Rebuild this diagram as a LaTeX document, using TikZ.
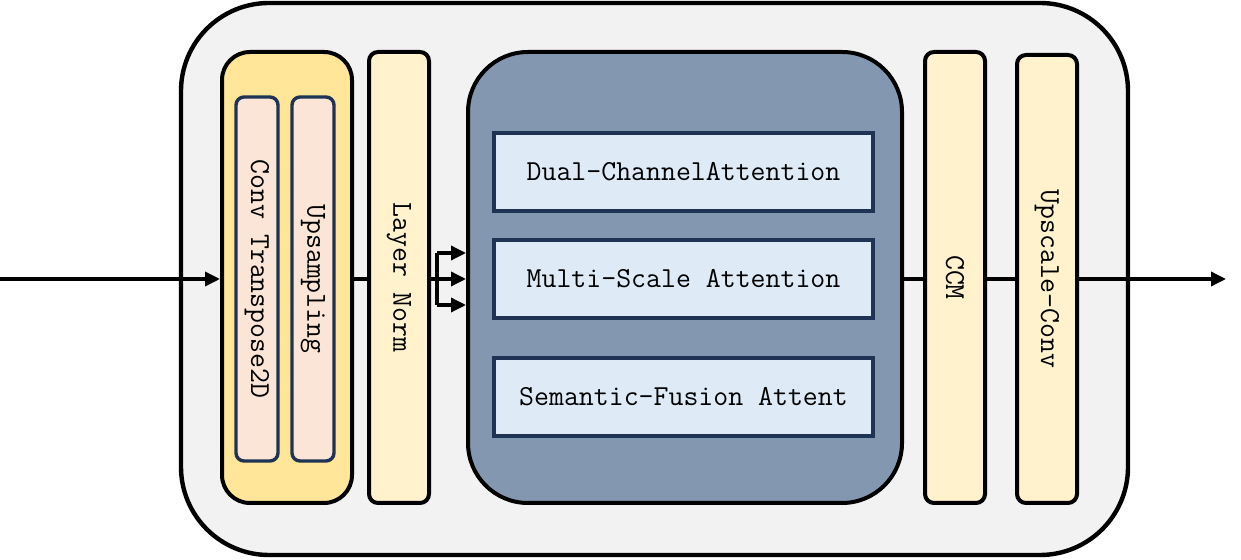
\documentclass[tikz,border=0pt]{standalone}
\usepackage{fontspec}
\usetikzlibrary{arrows.meta,calc}

\definecolor{panelgray}{HTML}{F2F2F2}
\definecolor{groupgold}{HTML}{FFE699}
\definecolor{peach}{HTML}{FBE5D6}
\definecolor{cream}{HTML}{FFF2CC}
\definecolor{slateblue}{HTML}{8497B0}
\definecolor{paleblue}{HTML}{DEEBF7}
\definecolor{navy}{HTML}{1F3354}

\begin{document}
\begin{tikzpicture}[x=0.5pt, y=-0.5pt,
    font=\fontsize{14.5pt}{17pt}\ttfamily,
    block/.style={draw, line width=2pt, rectangle, rounded corners=4.5pt, fill=cream,
      minimum width=30pt, minimum height=225.5pt, inner sep=0pt},
    subblock/.style={draw=navy, line width=1.7pt, rectangle, rounded corners=4pt, fill=peach,
      minimum width=21pt, minimum height=182pt, inner sep=0pt},
    attbox/.style={draw=navy, line width=2pt, rectangle, fill=paleblue,
      minimum width=189.5pt, minimum height=39pt},
    conn/.style={line width=1.7pt},
    tip/.style={-{Triangle[length=7.5pt,width=7pt]}}]
  \useasboundingbox (0,0) rectangle (1241,560);

  % frame
  \node[draw, line width=2.2pt, rectangle, rounded corners=44pt, fill=panelgray,
    minimum width=473.5pt, minimum height=276pt] (frame) at (654.5,279) {};

  % upsampling group
  \node[draw, line width=2pt, rectangle, rounded corners=14pt, fill=groupgold,
    minimum width=65pt, minimum height=225.5pt] (grp) at (287,277.5) {};
  \node[subblock] (convt) at (257,279) {\rotatebox{-90}{Conv Transpose2D}};
  \node[subblock] (upsamp) at (313,279) {\rotatebox{-90}{Upsampling}};

  \node[block] (ln) at (399,277.5) {\rotatebox{-90}{Layer Norm}};

  % attention stack
  \node[draw, line width=2pt, rectangle, rounded corners=30pt, fill=slateblue,
    minimum width=217pt, minimum height=225.5pt] (att) at (685,277.5) {};
  \node[attbox] (dca) at (683.5,172) {Dual-ChannelAttention};
  \node[attbox] (msa) at (683.5,279) {Multi-Scale Attention};
  \node[attbox] (sfa) at (683.5,397) {Semantic-Fusion Attent};

  \node[block] (ccm) at (955,277.5) {\rotatebox{-90}{CCM}};
  \node[block, minimum height=224pt] (upc) at (1047,279) {\rotatebox{-90}{Upscale-Conv}};

  % connectors
  \coordinate (in) at (0,279);
  \coordinate (out) at (1226,279);
  \coordinate (split) at (437,279);
  \draw[conn, tip] (in) -- (in -| grp.west);
  \draw[conn] (grp.east |- in) -- (ln.west |- in);
  \draw[conn] (ln.east |- in) -- (split);
  \draw[conn] ($(split)+(0,-26)$) -- ($(split)+(0,26)$);
  \foreach \dy in {-26,0,26}{
    \coordinate (b) at ($(split)+(0,\dy)$);
    \draw[conn, tip] (b) -- (b -| att.west);
  }
  \draw[conn] (att.east |- in) -- (ccm.west |- in);
  \draw[conn] (ccm.east |- in) -- (upc.west |- in);
  \draw[conn, tip] (upc.east |- in) -- (out);
\end{tikzpicture}
\end{document}
